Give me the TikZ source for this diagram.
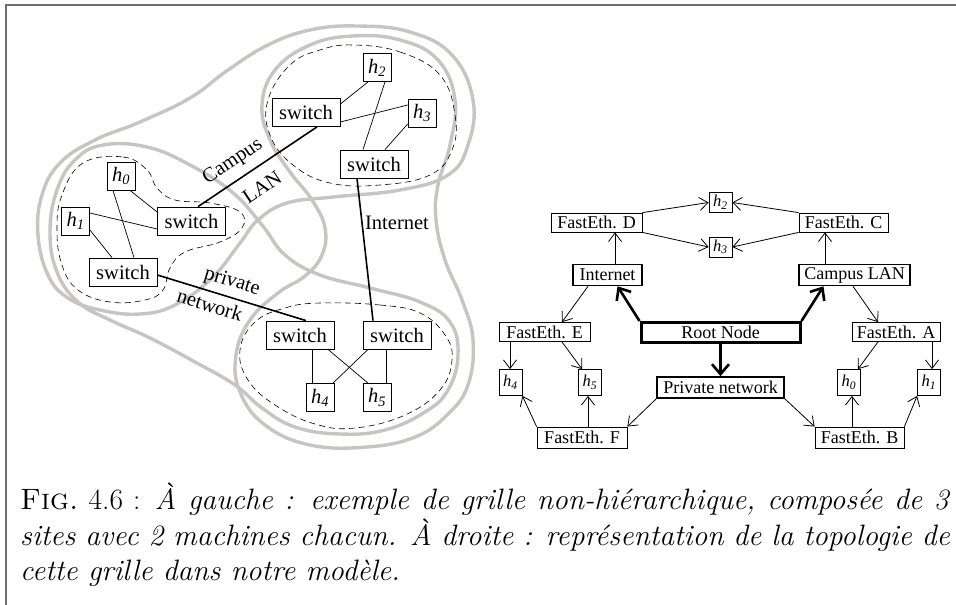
\documentclass[tikz,border=0pt]{standalone}
\usepackage{fontspec}
\newfontfamily\tfont{Liberation Serif}
\usetikzlibrary{arrows.meta,calc}
\definecolor{blobgray}{RGB}{200,196,193}
\definecolor{framegray}{RGB}{110,110,110}
\newcommand\hh[1]{\textit{h}\textsubscript{\textit{#1}}}
\begin{document}
\begin{tikzpicture}[x=1pt,y=-1pt,
  blob/.style={draw=blobgray,line width=3.4pt},
  site/.style={draw,line width=0.6pt,dash pattern=on 6pt off 4pt},
  lfont/.style={font=\tfont\fontsize{20.5}{22}\selectfont},
  rfont/.style={font=\tfont\fontsize{18}{19}\selectfont},
  swbox/.style={draw,line width=0.8pt,minimum width=68pt,minimum height=28pt,inner sep=0pt,lfont},
  hlbox/.style={draw,line width=0.8pt,minimum width=28pt,minimum height=28pt,inner sep=0pt,lfont},
  link/.style={line width=0.7pt},
  netlink/.style={line width=1.6pt},
  febox/.style={draw,line width=0.8pt,inner sep=0pt,minimum height=19pt,rfont},
  hrbox/.style={draw,line width=0.8pt,inner sep=0pt,minimum width=23pt,minimum height=20pt,font=\tfont\fontsize{16.5}{17}\selectfont},
  netbox/.style={draw,line width=1.6pt,inner sep=0pt,minimum height=21pt,rfont},
  rootbox/.style={draw,line width=3pt,inner sep=0pt,minimum height=20pt,rfont},
  arr/.style={line width=0.8pt,-{Straight Barb[length=8.5pt,width=13pt,line width=0.8pt]}},
  bigarr/.style={line width=2.6pt,-{Straight Barb[length=10pt,width=17pt,line width=2.6pt]}}
]
\useasboundingbox (0,0) rectangle (956,605);
\draw[framegray,line width=1.4pt] (6,605) -- (6,5) -- (956,5);

% ---------- left: gray network blobs ----------
\draw[blob] plot[smooth cycle,tension=0.7] coordinates {(357,26) (410,32) (452,55) (473,100) (468,145) (448,175) (400,190) (333,197) (287,203) (258,220) (240,243) (212,278) (175,305) (140,314) (100,310) (68,298) (48,275) (38,235) (42,195) (60,163) (95,140) (140,122) (190,98) (228,70) (268,45) (310,30)};
\draw[blob] plot[smooth cycle,tension=0.7] coordinates {(353,36) (400,40) (438,60) (455,100) (450,145) (438,185) (436,220) (445,260) (462,300) (473,340) (468,385) (447,415) (415,437) (367,447) (310,445) (265,425) (240,392) (236,355) (250,320) (278,293) (305,276) (322,255) (325,228) (312,200) (290,172) (270,140) (262,105) (275,70) (310,45)};
\draw[blob] plot[smooth cycle,tension=0.7] coordinates {(103,145) (147,147) (190,165) (232,192) (262,225) (285,255) (320,275) (370,288) (420,302) (450,322) (458,355) (448,390) (425,412) (385,430) (340,434) (295,427) (262,408) (235,385) (195,362) (150,338) (110,320) (78,302) (57,272) (50,232) (57,190) (75,160)};

% ---------- left: dashed sites ----------
\draw[site] plot[smooth cycle,tension=0.7] coordinates {(353,45) (400,52) (440,75) (455,115) (452,150) (430,175) (380,185) (330,183) (293,165) (270,135) (268,100) (290,65) (320,50)};
\draw[site] plot[smooth cycle,tension=0.7] coordinates {(83,163) (123,157) (147,170) (157,188) (175,200) (210,203) (240,212) (242,228) (220,242) (185,252) (170,268) (163,290) (145,300) (110,302) (78,290) (62,265) (57,230) (62,195)};
\draw[site] plot[smooth cycle,tension=0.7] coordinates {(320,303) (380,305) (420,313) (445,335) (452,360) (440,390) (405,415) (355,428) (315,424) (275,405) (248,380) (240,350) (255,322) (285,308)};

% ---------- left: nodes ----------
\node[hlbox,fill=white] (lh2) at (377,67.5) {\hh{2}};
\node[swbox,fill=white] (lsA) at (306,112.5) {switch};
\node[hlbox,fill=white] (lh3) at (422,113) {\hh{3}};
\node[swbox,fill=white] (lsB) at (374,164) {switch};
\node[hlbox,fill=white] (lh0) at (121,176) {\hh{0}};
\node[swbox,fill=white] (lsC) at (191.5,221) {switch};
\node[hlbox,fill=white] (lh1) at (75.5,221) {\hh{1}};
\node[swbox,fill=white] (lsD) at (123,272) {switch};
\node[swbox,fill=white] (lsE) at (300,335) {switch};
\node[swbox,fill=white] (lsF) at (397,335) {switch};
\node[hlbox,fill=white] (lh4) at (320,397.5) {\hh{4}};
\node[hlbox,fill=white] (lh5) at (377,397.5) {\hh{5}};

% ---------- left: links ----------
\draw[link] ($(lh2.south)+(-9,0)$) -- ($(lsA.east)+(0,-8.5)$);
\draw[link] ($(lh2.south)+(8,0)$) -- ($(lsB.north)+(-11,0)$);
\draw[link] ($(lsA.east)+(0,9.5)$) -- ($(lh3.west)+(0,-8)$);
\draw[link] ($(lh3.west)+(0,11)$) -- ($(lsB.north)+(11,0)$);
\draw[link] ($(lh0.south)+(9,0)$) -- ($(lsC.west)+(0,-9)$);
\draw[link] ($(lh0.south)+(-8,0)$) -- ($(lsD.north)+(11,0)$);
\draw[link] ($(lh1.east)+(0,-8)$) -- ($(lsC.west)+(0,8)$);
\draw[link] ($(lh1.east)+(0,9)$) -- ($(lsD.north)+(-11,0)$);
\draw[link] ($(lsE.south)+(12,0)$) -- ($(lh4.north)+(-8,0)$);
\draw[link] ($(lsE.south)+(28,0)$) -- ($(lh5.north)+(-9,0)$);
\draw[link] ($(lsF.south)+(-29,0)$) -- ($(lh4.north)+(13,0)$);
\draw[link] ($(lsF.south)+(-11,0)$) -- ($(lh5.north)+(9,0)$);
\draw[netlink] ($(lsA.south)+(11,0)$) -- ($(lsC.north)+(6.5,0)$);
\draw[netlink] ($(lsB.south)+(-17,0)$) -- ($(lsF.north)+(-24,0)$);
\draw[netlink] ($(lsD.east)+(0,3)$) -- ($(lsE.north)+(6,0)$);

\node[lfont,rotate=34] (tcampus) at (233,162) {Campus};
\node[lfont,rotate=34] (tlan) at (262,187) {LAN};
\node[lfont] (tinet) at (397,223) {Internet};
\node[lfont,rotate=-17] (tpriv) at (232,282) {private};
\node[lfont,rotate=-17] (tnetw) at (210,305) {network};

% ---------- right: model ----------
\node[hrbox] (r2) at (720.5,202.5) {\hh{2}};
\node[hrbox] (r3) at (720.5,247) {\hh{3}};
\node[febox,minimum width=91pt] (fD) at (596.5,222.5) {FastEth. D};
\node[febox,minimum width=89pt] (fC) at (843.5,222.5) {FastEth. C};
\node[netbox,minimum width=69pt] (inet) at (607.5,275) {Internet};
\node[netbox,minimum width=111pt] (clan) at (854.5,275) {Campus LAN};
\node[rootbox,minimum width=159pt] (root) at (720.5,332.5) {Root Node};
\node[febox,minimum width=91pt] (fE) at (544.5,332) {FastEth. E};
\node[febox,minimum width=88pt] (fA) at (896,332) {FastEth. A};
\node[hrbox,minimum height=26pt] (r4) at (510.5,382.5) {\hh{4}};
\node[hrbox,minimum height=26pt] (r5) at (590,382.5) {\hh{5}};
\node[hrbox,minimum height=26pt] (r0) at (849,382.5) {\hh{0}};
\node[hrbox,minimum height=26pt] (r1) at (929,382.5) {\hh{1}};
\node[netbox,minimum width=127pt] (priv) at (720.5,387.5) {Private network};
\node[febox,minimum width=90pt,minimum height=21pt] (fF) at (582,437.5) {FastEth. F};
\node[febox,minimum width=89pt,minimum height=21pt] (fB) at (859.5,437.5) {FastEth. B};

\draw[arr] (fD.north east) -- (r2.west);
\draw[arr] (fD.south east) -- (r3.west);
\draw[arr] (fC.north west) -- (r2.east);
\draw[arr] (fC.south west) -- (r3.east);
\draw[arr] ($(inet.north)+(7.5,0)$) -- ($(fD.south)+(18.5,0)$);
\draw[arr] ($(clan.north)+(-29.5,0)$) -- ($(fC.south)+(-18.5,0)$);
\draw[bigarr] (root.north west) -- ($(inet.south)+(10,0)$);
\draw[bigarr] (root.north east) -- ($(clan.south)+(-31,0)$);
\draw[bigarr] (root.south) -- (priv.north);
\draw[arr] ($(inet.south)+(-19.5,0)$) -- ($(fE.north)+(17.5,0)$);
\draw[arr] ($(clan.south)+(-1.5,0)$) -- ($(fA.north)+(-18,0)$);
\draw[arr] ($(fE.south)+(-34.5,0)$) -- ($(r4.north)+(-0.5,0)$);
\draw[arr] ($(fE.south)+(17.5,0)$) -- ($(r5.north)+(-8,0)$);
\draw[arr] ($(fA.south)+(-18,0)$) -- ($(r0.north)+(9,0)$);
\draw[arr] ($(fA.south)+(36,0)$) -- ($(r1.north)+(3,0)$);
\draw[arr] (priv.south west) -- (fF.north east);
\draw[arr] (priv.south east) -- (fB.north west);
\draw[arr] (fF.north west) -- (r4.south east);
\draw[arr] ($(fF.north)+(6,0)$) -- ($(r5.south)+(-2,0)$);
\draw[arr] ($(fB.north)+(-7.5,0)$) -- ($(r0.south)+(3,0)$);
\draw[arr] (fB.north east) -- (r1.south west);

% ---------- caption ----------
\node[anchor=north west,inner sep=0pt,align=left,font=\fontsize{29.5}{35.5}\selectfont] (caption) at (20,483)
 {\hbox to 930pt{\textsc{Fig.}~4.6 : \textit{À gauche : exemple de grille non-hiérarchique, composée de 3}}\\
  \hbox to 930pt{\textit{sites avec 2 machines chacun. À droite : représentation de la topologie de}}\\
  \textit{cette grille dans notre modèle.}};
\end{tikzpicture}
\end{document}
